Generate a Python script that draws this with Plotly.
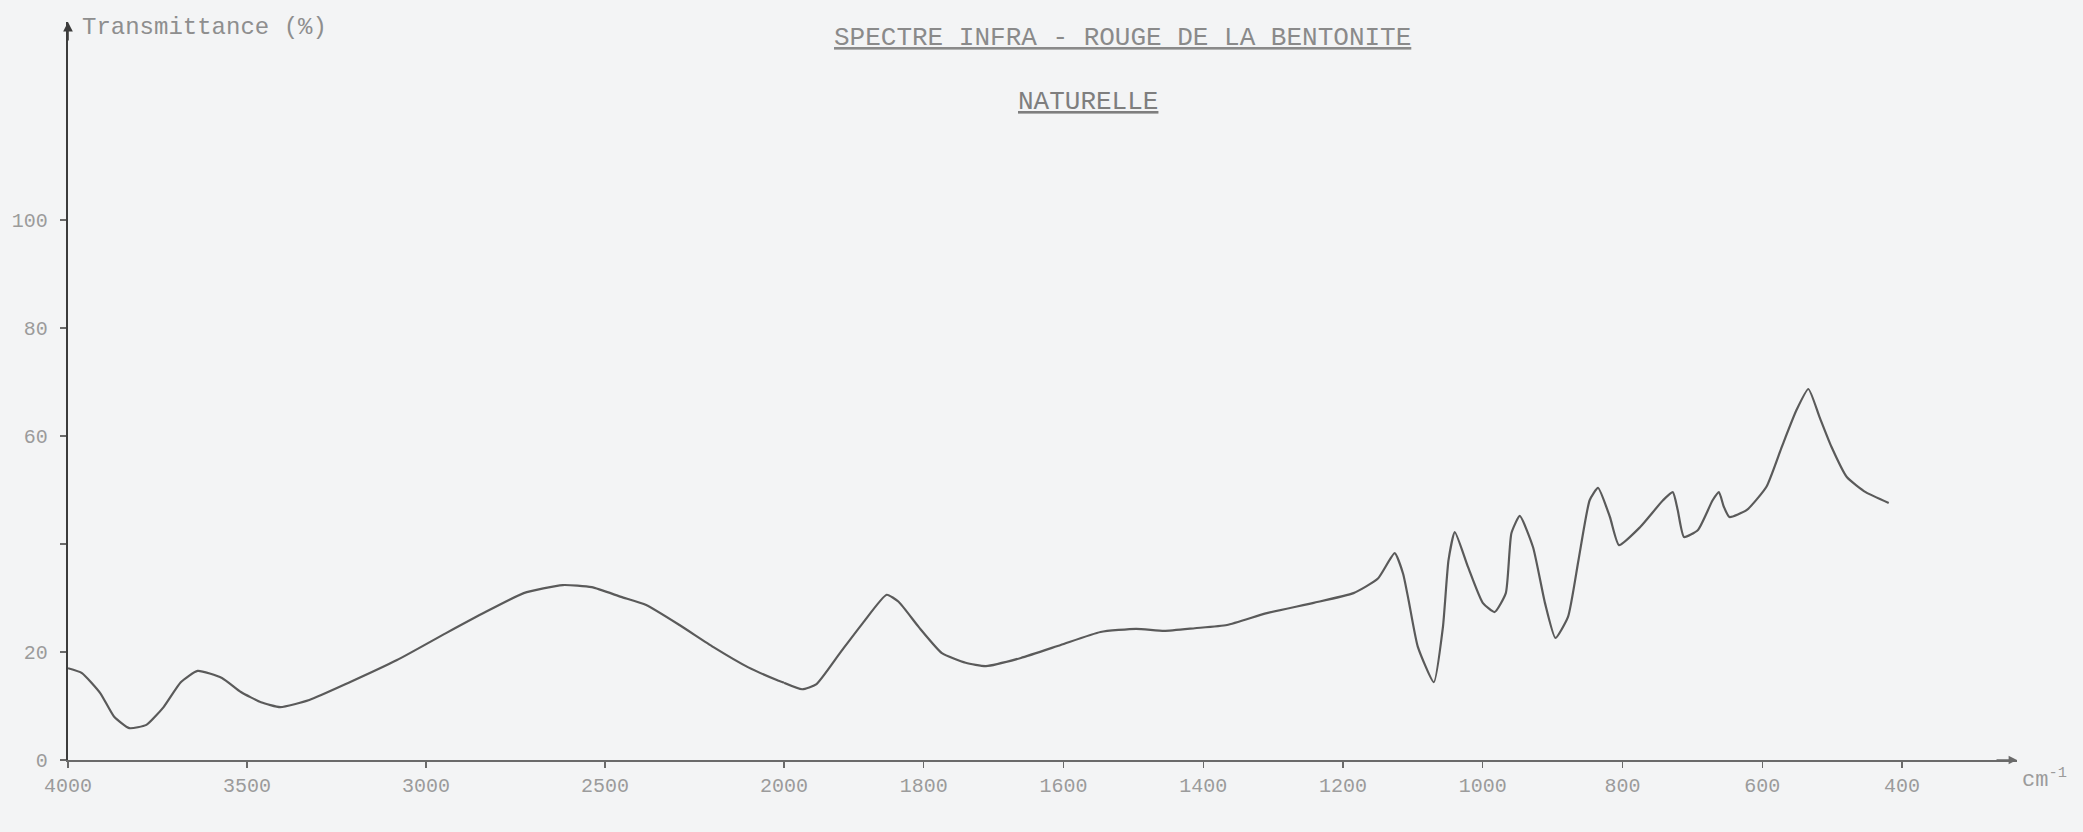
import plotly.graph_objects as go

# --- data ---
wavenumber = [4000, 3961, 3910, 3871, 3829, 3781, 3733, 3685, 3638, 3570, 3517, 3461, 3407,
              3326, 3216, 3081, 2944, 2834, 2727, 2618, 2537, 2455, 2385, 2292, 2197, 2101,
              2020, 2000, 1974, 1954, 1920, 1887, 1853, 1836, 1807, 1774, 1740, 1711, 1661,
              1604, 1547, 1496, 1456, 1412, 1366, 1309, 1242, 1185, 1150, 1126, 1114, 1106,
              1093, 1070, 1057, 1049, 1040, 1021, 1000, 983, 967, 959, 947, 928, 911, 896,
              878, 863, 847, 835, 818, 805, 775, 742, 728, 721, 712, 692, 671, 662, 655, 647,
              622, 594, 572, 551, 534, 518, 501, 479, 452, 419]
transmittance = [17.0, 16.1, 12.4, 8.0, 5.9, 6.5, 9.8, 14.4, 16.5, 15.2, 12.6, 10.7, 9.8,
                 11.1, 14.3, 18.5, 23.5, 27.4, 30.9, 32.4, 32.0, 30.2, 28.7, 25.0, 20.9, 17.2,
                 14.8, 14.3, 13.1, 14.0, 19.8, 25.4, 30.6, 29.3, 24.6, 19.8, 18.0, 17.4, 18.9,
                 21.3, 23.7, 24.3, 23.9, 24.4, 25.0, 27.2, 29.1, 30.9, 33.6, 38.3, 34.5, 29.5,
                 21.0, 14.4, 24.6, 37.0, 42.2, 35.7, 29.1, 27.4, 30.9, 42.0, 45.2, 39.4, 29.1, 22.6,
                 26.5, 37.0, 48.1, 50.4, 45.0, 39.8, 43.1, 48.1, 49.6, 46.3, 41.3, 42.6, 48.1, 49.6, 46.9, 45.0,
                 46.3, 50.6, 58.0, 64.8, 68.7, 63.5, 58.0, 52.4, 49.6, 47.6]

x_ticks_high = [4000, 3500, 3000, 2500, 2000]
x_ticks_low = [1800, 1600, 1400, 1200, 1000, 800, 600, 400]
y_ticks = [0, 20, 40, 60, 80, 100]
y_ticktext = ["0", "20", "", "60", "80", "100"]

title_line1 = "SPECTRE INFRA - ROUGE DE LA BENTONITE"
title_line2 = "NATURELLE"
y_label = "Transmittance (%)"
x_unit = "cm<sup>-1</sup>"

# split at the scale change (2000 cm-1)
hi_x = [w for w in wavenumber if w >= 2000]
hi_y = [t for w, t in zip(wavenumber, transmittance) if w >= 2000]
lo_x = [w for w in wavenumber if w <= 2000]
lo_y = [t for w, t in zip(wavenumber, transmittance) if w <= 2000]

W, H = 2083, 832
BG = "#f3f4f5"
INK = "#5a5a5a"
FAINT = "#9b9b9b"
MONO = "Liberation Mono, DejaVu Sans Mono, monospace"


def fx(px):
    return px / W


def fy(py):
    return (H - py) / H


line_style = dict(color=INK, width=2.2, shape="spline", smoothing=0.5)

fig = go.Figure()
fig.add_trace(go.Scatter(x=hi_x, y=hi_y, mode="lines", line=line_style,
                         xaxis="x", yaxis="y", showlegend=False, hoverinfo="skip"))
fig.add_trace(go.Scatter(x=lo_x, y=lo_y, mode="lines", line=line_style,
                         xaxis="x2", yaxis="y", showlegend=False, hoverinfo="skip"))

x0_px, xb_px, xend_px = 68, 784, 2017
y0_px, ytop_px = 760, 22
px_per_unit = 5.4
y_top_val = (y0_px - ytop_px) / px_per_unit
low_end = 2000 - (xend_px - xb_px) / (1118 / 1600)

axis_common = dict(showgrid=False, zeroline=False, showline=True, linecolor="#6a6a6a",
                   linewidth=1.6, ticks="outside", ticklen=6, tickwidth=1.4,
                   tickcolor="#6a6a6a", tickfont=dict(family=MONO, size=20, color=FAINT),
                   fixedrange=True)

fig.update_layout(
    width=W, height=H,
    margin=dict(l=0, r=0, t=0, b=0, autoexpand=False),
    paper_bgcolor=BG, plot_bgcolor=BG,
    xaxis=dict(domain=[fx(x0_px), fx(xb_px)], range=[4000, 2000], anchor="y",
               tickmode="array", tickvals=x_ticks_high,
               ticktext=[str(v) for v in x_ticks_high], **axis_common),
    xaxis2=dict(domain=[fx(xb_px), fx(xend_px)], range=[2000, low_end], anchor="y",
                tickmode="array", tickvals=x_ticks_low,
                ticktext=[str(v) for v in x_ticks_low], **axis_common),
    yaxis=dict(domain=[fy(y0_px), fy(ytop_px)], range=[0, y_top_val],
               anchor="x", tickmode="array", tickvals=y_ticks, ticktext=y_ticktext,
               ticklabelstandoff=8,
               **{**axis_common, "linecolor": "#3c3c3c", "linewidth": 2.2}),
)

ann = []
# axis arrows
ann.append(dict(x=4000, y=y_top_val, xref="x", yref="y", ax=0, ay=20, text="",
                showarrow=True, arrowhead=2, arrowsize=1.2, arrowwidth=1.6,
                arrowcolor="#3c3c3c"))
ann.append(dict(x=low_end, y=0, xref="x2", yref="y", ax=-22, ay=0, text="",
                showarrow=True, arrowhead=2, arrowsize=1.2, arrowwidth=1.4,
                arrowcolor="#6a6a6a"))
# labels
ann.append(dict(x=fx(80), y=fy(27), xref="paper", yref="paper", xanchor="left",
                yanchor="middle", text=y_label, showarrow=False,
                font=dict(family=MONO, size=24, color="#8e8e8e")))
ann.append(dict(x=fx(2044), y=fy(778), xref="paper", yref="paper", xanchor="center",
                yanchor="middle", text=x_unit, showarrow=False,
                font=dict(family=MONO, size=22, color=FAINT)))
ann.append(dict(x=fx(1122), y=fy(38), xref="paper", yref="paper", xanchor="center",
                yanchor="middle", text="<u>" + title_line1 + "</u>", showarrow=False,
                font=dict(family=MONO, size=26, color="#8a8a8a")))
ann.append(dict(x=fx(1088), y=fy(102), xref="paper", yref="paper", xanchor="center",
                yanchor="middle", text="<u>" + title_line2 + "</u>", showarrow=False,
                font=dict(family=MONO, size=26, color="#7e7e7e")))
fig.update_layout(annotations=ann)

fig.write_html(
    "out.html",
    config={"displayModeBar": False, "staticPlot": True},
    post_script="document.body.style.margin='0px';"
                "document.body.style.background='" + BG + "';",
)
